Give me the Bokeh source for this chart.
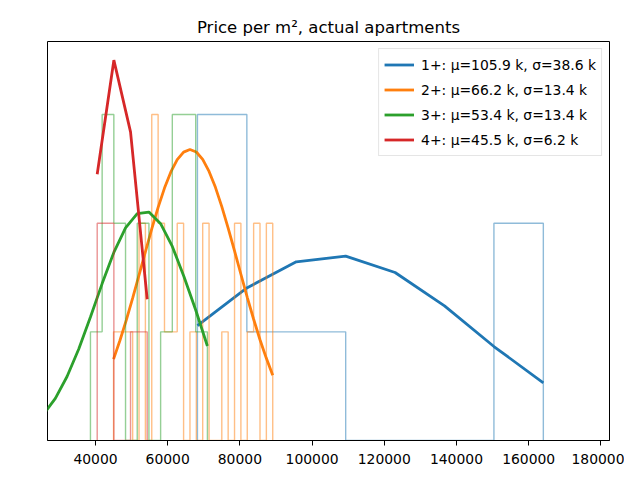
import numpy as np
from bokeh.plotting import figure
from bokeh.models import Range1d, FixedTicker, NumeralTickFormatter, Legend, LegendItem
from bokeh.embed import file_html
from bokeh.resources import INLINE

# ---- data ----
labels = ["1+: μ=105.9 k, σ=38.6 k", "2+: μ=66.2 k, σ=13.4 k",
          "3+: μ=53.4 k, σ=13.4 k", "4+: μ=45.5 k, σ=6.2 k"]
colors = ["#1f77b4", "#ff7f0e", "#2ca02c", "#d62728"]

# histogram first/last bin edge and counts per bin
blue_range = [68240, 164070]
blue_counts = [3, 1, 1, 0, 0, 0, 2]
orange_range = [45000, 89100]
orange_counts = [1, 1, 1, 0, 2, 0, 3, 2, 1, 1, 2, 0, 1, 0, 2, 0, 0, 1, 0, 2, 0, 1, 2, 0, 2]
green_range = [38600, 71000]
green_counts = [1, 3, 2, 0, 2, 0, 1, 3, 3, 1]
red_range = [40470, 54320]
red_counts = [2, 0, 1]

# fitted-curve heights at the bin edges
blue_curve = [1.058, 1.404, 1.644, 1.697, 1.546, 1.239, 0.865, 0.53]
orange_curve = [0.749, 0.920, 1.108, 1.310, 1.522, 1.737, 1.947, 2.146, 2.323, 2.472,
                2.584, 2.654, 2.678, 2.655, 2.587, 2.476, 2.330, 2.152, 1.955, 1.745,
                1.530, 1.318, 1.116, 0.927, 0.756, 0.600]
green_curve_start = 25640  # curve continues left of the view, extra edges
green_curve = [0.243, 0.388, 0.589, 0.842, 1.136, 1.444, 1.731, 1.957, 2.088, 2.102,
               1.995, 1.786, 1.507, 1.201, 0.870]
red_curve = [2.45, 3.50, 2.84, 1.30]

x_ticks = [40000, 60000, 80000, 100000, 120000, 140000, 160000, 180000]


def edges_of(rng, counts):
    return np.linspace(rng[0], rng[1], len(counts) + 1)


def step_path(rng, counts):
    e = edges_of(rng, counts)
    xs, ys = [e[0]], [0]
    for i, c in enumerate(counts):
        xs += [e[i], e[i + 1]]
        ys += [c, c]
    xs.append(e[-1])
    ys.append(0)
    return xs, ys


p = figure(width=624, height=470, output_backend="svg", toolbar_location=None,
           x_range=Range1d(26700, 182400), y_range=Range1d(0, 3.672),
           min_border_left=47, min_border_right=15, min_border_top=41, min_border_bottom=30,
           title="Price per m², actual apartments")
p.title.align = "center"
p.title.text_font = "DejaVu Sans"
p.title.text_font_size = "16.5px"
p.title.text_font_style = "normal"
p.title.text_color = "black"

p.xgrid.visible = False
p.ygrid.visible = False
p.yaxis.visible = False
p.outline_line_color = "black"
p.outline_line_alpha = 1
p.outline_line_width = 1
p.background_fill_color = "white"
p.border_fill_color = "white"

ax = p.xaxis[0]
ax.ticker = FixedTicker(ticks=x_ticks)
ax.formatter = NumeralTickFormatter(format="0")
ax.major_label_text_font = "DejaVu Sans"
ax.major_label_text_font_size = "13.9px"
ax.major_label_text_color = "black"
ax.major_label_standoff = 8
ax.minor_tick_line_color = None
ax.major_tick_out = 5
ax.major_tick_in = 0
ax.axis_line_color = "black"
ax.major_tick_line_color = "black"

hists = [(blue_range, blue_counts), (orange_range, orange_counts),
         (green_range, green_counts), (red_range, red_counts)]

gw = (green_range[1] - green_range[0]) / len(green_counts)
curves_x = [edges_of(blue_range, blue_counts), edges_of(orange_range, orange_counts),
            green_curve_start + gw * np.arange(len(green_curve)),
            edges_of(red_range, red_counts)]
curves_y = [blue_curve, orange_curve, green_curve, red_curve]

items = []
for i in range(4):
    hx, hy = step_path(*hists[i])
    p.line(hx, hy, line_color=colors[i], line_alpha=0.5, line_width=1.4)
    r = p.line(curves_x[i], curves_y[i], line_color=colors[i], line_width=2.8)
    items.append(LegendItem(label=labels[i], renderers=[r]))

legend = Legend(items=items, location="top_right")
legend.label_text_font = "DejaVu Sans"
legend.label_text_font_size = "13.9px"
legend.label_text_color = "black"
legend.glyph_width = 30
legend.glyph_height = 21
legend.label_height = 21
legend.spacing = 4
legend.padding = 5
legend.margin = 7
legend.label_standoff = 7
legend.border_line_color = "#cccccc"
legend.border_line_width = 1
legend.background_fill_alpha = 0.8
p.add_layout(legend)

open("out.html", "w").write(file_html(p, INLINE))
